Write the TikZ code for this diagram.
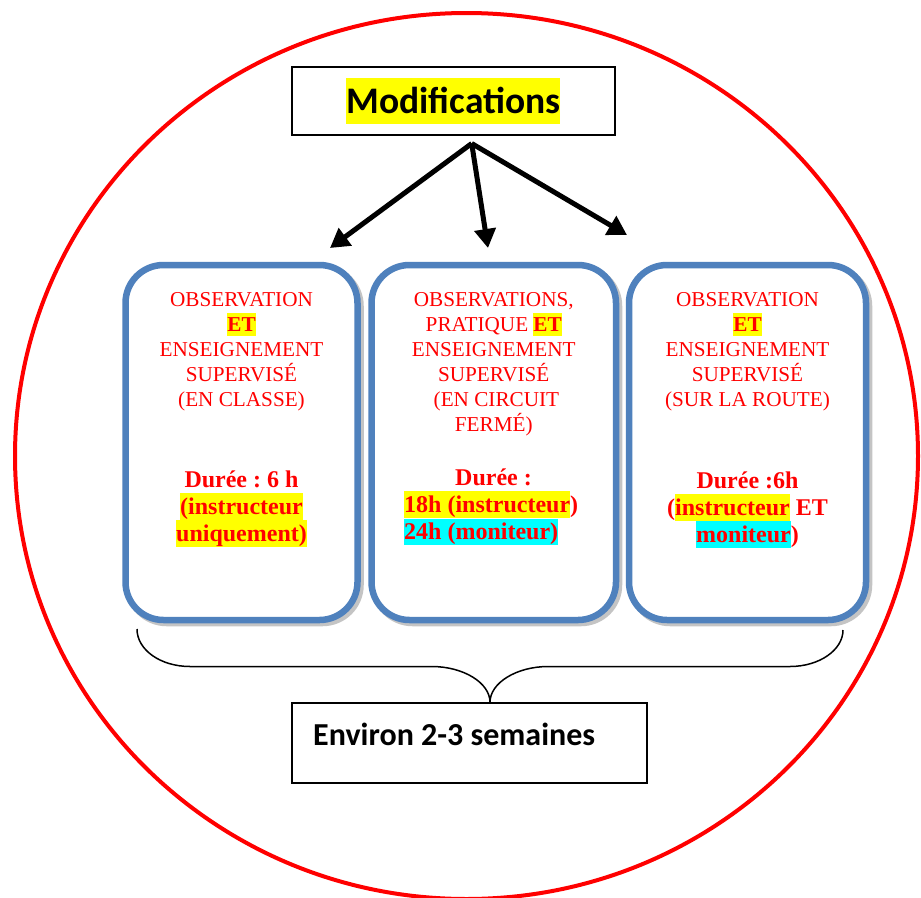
\documentclass[tikz,border=0pt]{standalone}
\usepackage{fontspec}
\setmainfont{Liberation Serif}
\newfontfamily\calfont{Carlito}
\usetikzlibrary{arrows.meta}
\definecolor{boxblue}{HTML}{4F81BD}
\definecolor{hlyellow}{HTML}{FFFF00}
\definecolor{hlcyan}{HTML}{00FFFF}
\definecolor{txtred}{HTML}{FF0000}
\definecolor{shadowgray}{HTML}{C4C4C4}
\frenchspacing
\newcommand{\sr}{\rule[-0.216em]{0pt}{1.107em}}
\newcommand{\hlt}[2]{\begingroup\setlength{\fboxsep}{0pt}\colorbox{#1}{\rule[-0.216em]{0pt}{1.107em}#2}\endgroup}
\newcommand{\hlc}[2]{\begingroup\setlength{\fboxsep}{0pt}\colorbox{#1}{\rule[-0.269em]{0pt}{1.221em}#2}\endgroup}
\newcommand{\regfont}{\fontsize{21.2}{25}\selectfont}
\newcommand{\boldfont}{\fontsize{24}{27.3}\selectfont\bfseries}
\begin{document}
\begin{tikzpicture}[x=1pt,y=-1pt,
  redtxt/.style={text=txtred, align=center, inner sep=0pt, font=\regfont},
  boldtxt/.style={text=txtred, align=center, inner sep=0pt, font=\boldfont},
  stagebox/.style={draw=boxblue, line width=6.5pt, fill=white, rounded corners=38pt, minimum height=355pt, inner sep=0pt},
  shadowbox/.style={draw=shadowgray, line width=6.5pt, rounded corners=38pt, minimum height=355pt, inner sep=0pt},
  plainbox/.style={draw=black, line width=1.5pt, inner sep=0pt},
  bigarrow/.style={line width=5pt, -{Triangle[length=19pt,width=21pt]}}
]
\useasboundingbox (0,0) rectangle (921,897);
\fill[white] (0,0) rectangle (921,897);

% outer red ellipse
\draw[red, line width=4pt] (466.5,456) ellipse [x radius=451.5pt, y radius=443pt];

% top box
\node[plainbox, minimum width=323.3pt, minimum height=68.3pt] (mod) at (453.4,100.9)
  {\calfont\bfseries\fontsize{37.5}{45}\selectfont\hlc{hlyellow}{Modifications}};

% arrows
\coordinate (apex) at (471.7,143.5);
\coordinate (tipA) at (330,248);
\coordinate (tipB) at (488,248);
\coordinate (tipC) at (627,235);
\draw[bigarrow] (apex) -- (tipA);
\draw[bigarrow] (apex) -- (tipB);
\draw[bigarrow] (apex) -- (tipC);

% shadows
\node[shadowbox, minimum width=232pt] (s1) at (244.5,445.5) {};
\node[shadowbox, minimum width=244.5pt] (s2) at (496.75,445.5) {};
\node[shadowbox, minimum width=237pt] (s3) at (750.5,445.5) {};
% stage boxes
\node[stagebox, minimum width=232pt] (b1) at (241.5,442.5) {};
\node[stagebox, minimum width=244.5pt] (b2) at (493.75,442.5) {};
\node[stagebox, minimum width=237pt] (b3) at (747.5,442.5) {};

% box 1 text
\node[redtxt, anchor=north] (t1) at (241.5,287.5)
  {\sr OBSERVATION\\\hlt{hlyellow}{\textbf{ET}}\\ENSEIGNEMENT\\SUPERVISÉ\\(EN CLASSE)};
\node[boldtxt, anchor=north] (d1) at (241.5,465.6)
  {\sr Durée : 6 h\\\hlt{hlyellow}{(instructeur}\\\hlt{hlyellow}{uniquement)}};

% box 2 text
\node[redtxt, anchor=north] (t2) at (493.75,287.5)
  {\sr OBSERVATIONS,\\PRATIQUE \hlt{hlyellow}{\textbf{ET}}\\ENSEIGNEMENT\\SUPERVISÉ\\\ (EN CIRCUIT\\FERMÉ)};
\node[boldtxt, anchor=north] (d2) at (493.5,464)
  {\sr Durée :};
\node[boldtxt, align=left, anchor=north west] (h2) at (404,491)
  {\hlt{hlyellow}{18h (instructeur})\\\hlt{hlcyan}{24h (moniteur)}};

% box 3 text
\node[redtxt, anchor=north] (t3) at (747.5,287.5)
  {\sr OBSERVATION\\\hlt{hlyellow}{\textbf{ET}}\\ENSEIGNEMENT\\SUPERVISÉ\\(SUR LA ROUTE)};
\node[boldtxt, anchor=north] (d3) at (747.5,466.6)
  {\sr Durée :6h\\(\hlt{hlyellow}{instructeur} ET\\\hlt{hlcyan}{moniteur})};

% bottom box
\node[plainbox, minimum width=355pt, minimum height=80pt] (env) at (469.5,743) {};
\node[anchor=base west, inner sep=0pt, font=\calfont\bfseries\fontsize{32}{38}\selectfont] (envtxt) at (313,745) {Environ 2-3 semaines};

% brace
\coordinate (brL) at (137,629);
\coordinate (brR) at (843,630);
\coordinate (cusp) at (env.north -| 490,0);
\draw[line width=1.5pt]
  (brL) .. controls (137,650) and (160.7,666.5) .. (190,666.5)
  -- (431.7,666.5) .. controls (463.7,666.5) and (490,683) .. (cusp)
  .. controls (490,683) and (516.3,666.5) .. (548.3,666.5)
  -- (790,666.5) .. controls (819.3,666.5) and (843,650) .. (brR);
\end{tikzpicture}
\end{document}
